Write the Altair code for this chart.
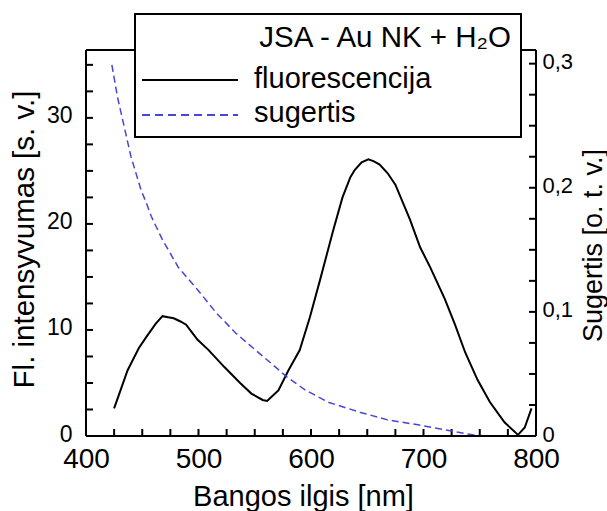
import altair as alt
import pandas as pd

# ---- data ----
fl_nm = [425, 437, 447, 454, 462, 468, 473, 478, 484, 489, 494, 499, 509, 523, 537, 547,
         557, 561, 564, 571, 580, 590, 599, 608, 620, 628, 635, 639, 645, 651, 656, 661,
         668, 675, 688, 697, 706, 719, 728, 737, 748, 759, 772, 784, 790, 796]
fl_val = [2.6, 6.2, 8.3, 9.4, 10.6, 11.3, 11.2, 11.1, 10.8, 10.5, 9.8, 9.1, 8.1, 6.5, 5.0, 4.0,
          3.4, 3.3, 3.6, 4.3, 6.2, 8.1, 11.2, 14.7, 19.5, 22.5, 24.4, 25.1, 25.8, 26.1, 25.9, 25.6,
          24.8, 23.7, 20.4, 17.8, 15.9, 12.9, 10.5, 7.9, 5.3, 3.2, 1.3, 0.1, 0.8, 2.6]

ab_nm = [423, 428, 434, 440, 449, 454, 458, 468, 482, 499, 516, 533, 551, 564, 578, 595,
         616, 644, 668, 695, 719, 737, 747, 760, 781]
ab_val = [0.299, 0.273, 0.249, 0.225, 0.198, 0.187, 0.177, 0.158, 0.136, 0.118, 0.099, 0.083,
          0.069, 0.059, 0.048, 0.037, 0.027, 0.019, 0.013, 0.009, 0.005, 0.002, 0.0005, 0.0, 0.0]

x_labels = [400, 500, 600, 700, 800]
x_ticks = [425, 450, 475, 500, 525, 550, 575, 600, 625, 650, 675, 700, 725, 750, 775]
left_labels = [0, 10, 20, 30]
left_ticks = [2.5, 5, 7.5, 10, 12.5, 15, 17.5, 20, 22.5, 25, 27.5, 30, 32.5, 35]
right_labels = [0, 0.1, 0.2, 0.3]
right_ticks = [0.025, 0.05, 0.075, 0.1, 0.125, 0.15, 0.175, 0.2, 0.225, 0.25, 0.275, 0.3]

legend_title = "JSA - Au NK + H₂O"
series_names = ["fluorescencija", "sugertis"]

# ---- styling ----
W, H = 450, 386
FONT = "Liberation Sans"
NARROW = "Liberation Sans Narrow, Liberation Sans"
BLUE = "#4646d8"
TL = 7

fl_df = pd.DataFrame({"nm": fl_nm, "fl": fl_val})
ab_df = pd.DataFrame({"nm": ab_nm, "ab": ab_val})
one = pd.DataFrame({"k": [0]})

xs = alt.Scale(domain=[400, 800], nice=False, zero=False)
yl = alt.Scale(domain=[0, 36.4], nice=False, zero=False)
yr = alt.Scale(domain=[0, 0.311], nice=False, zero=False)

x_axis = alt.Axis(orient="bottom", values=x_labels, ticks=False, domain=False, grid=False,
                  labelFont=NARROW, labelFontSize=28, labelPadding=9, labelColor="black",
                  labelFlush=False, labelOverlap=False,
                  title="Bangos ilgis [nm]", titleFont=FONT, titleFontSize=29,
                  titleFontWeight="normal", titleColor="black",
                  titleX=217, titleY=69, titleAlign="center", titleBaseline="alphabetic")

left_axis = alt.Axis(orient="left", values=left_labels, ticks=False, domain=False, grid=False,
                     labelFont=FONT, labelFontSize=23, labelPadding=14, labelColor="black",
                     labelFlush=False, labelOverlap=False, labelOffset=-2,
                     title="Fl. intensyvumas [s. v.]", titleFont=FONT, titleFontSize=29.5,
                     titleFontWeight="normal", titleColor="black", titleAngle=270,
                     titleX=-53, titleY=189, titleAlign="center", titleBaseline="alphabetic")

right_axis = alt.Axis(orient="right", values=right_labels, ticks=False, domain=False, grid=False,
                      labelFont=FONT, labelFontSize=22, labelPadding=6, labelColor="black",
                      labelFlush=False, labelOverlap=False, labelOffset=-2,
                      labelExpr="datum.value == 0 ? '0' : replace(format(datum.value, '.1f'), '.', ',')",
                      title="Sugertis [o. t. v.]", titleFont=FONT, titleFontSize=27,
                      titleFontWeight="normal", titleColor="black", titleAngle=270,
                      titleX=65, titleY=195, titleAlign="center", titleBaseline="alphabetic")

# fluorescence side (left scale)
fl_line = alt.Chart(fl_df).mark_line(color="black", strokeWidth=2).encode(
    x=alt.X("nm:Q", scale=xs, axis=x_axis),
    y=alt.Y("fl:Q", scale=yl, axis=left_axis),
)
left_tk = alt.Chart(pd.DataFrame({"v": left_ticks})).mark_rule(color="black", strokeWidth=2).encode(
    y=alt.Y("v:Q", scale=yl, axis=left_axis),
    x=alt.value(0), x2=alt.value(TL),
)
bottom_tk = alt.Chart(pd.DataFrame({"nm": x_ticks})).mark_rule(color="black", strokeWidth=2).encode(
    x=alt.X("nm:Q", scale=xs, axis=x_axis),
    y=alt.value(H), y2=alt.value(H - TL),
)
left_side = alt.layer(fl_line, left_tk, bottom_tk)

# absorption side (right scale)
ab_line = alt.Chart(ab_df).mark_line(color=BLUE, strokeWidth=1.5, strokeDash=[7, 4]).encode(
    x=alt.X("nm:Q", scale=xs, axis=x_axis),
    y=alt.Y("ab:Q", scale=yr, axis=right_axis),
)
right_tk = alt.Chart(pd.DataFrame({"ab": right_ticks})).mark_rule(color="black", strokeWidth=2).encode(
    y=alt.Y("ab:Q", scale=yr, axis=right_axis),
    x=alt.value(W), x2=alt.value(W - TL),
)
right_side = alt.layer(ab_line, right_tk)

# frame
def frule(x, x2, y, y2):
    return alt.Chart(one).mark_rule(color="black", strokeWidth=2).encode(
        x=alt.value(x), x2=alt.value(x2), y=alt.value(y), y2=alt.value(y2))

frame = alt.layer(frule(0, W, 0, 0), frule(0, W, H, H), frule(0, 0, 0, H), frule(W, W, 0, H))

# legend box
box = alt.Chart(one).mark_rect(fill="white", stroke="black", strokeWidth=2).encode(
    x=alt.value(49), x2=alt.value(435), y=alt.value(-36), y2=alt.value(87))
leg_title = alt.Chart(one).mark_text(text=legend_title, font=FONT, fontSize=29.5, align="right",
                                     baseline="alphabetic", color="black").encode(
    x=alt.value(425), y=alt.value(-3))
leg_t1 = alt.Chart(one).mark_text(text=series_names[0], font=FONT, fontSize=29, align="left",
                                  baseline="alphabetic", color="black").encode(
    x=alt.value(168), y=alt.value(38))
leg_t2 = alt.Chart(one).mark_text(text=series_names[1], font=FONT, fontSize=29, align="left",
                                  baseline="alphabetic", color="black").encode(
    x=alt.value(168), y=alt.value(72))
leg_l1 = alt.Chart(one).mark_rule(color="black", strokeWidth=2).encode(
    x=alt.value(56), x2=alt.value(152), y=alt.value(30))
leg_l2 = alt.Chart(one).mark_rule(color=BLUE, strokeWidth=2, strokeDash=[8, 5]).encode(
    x=alt.value(56), x2=alt.value(152), y=alt.value(65))
legend = alt.layer(box, leg_title, leg_t1, leg_t2, leg_l1, leg_l2)

chart = alt.layer(left_side, right_side, frame, legend).resolve_scale(y="independent").properties(
    width=W, height=H,
    autosize=alt.AutoSizeParams(type="none"),
    padding={"left": 86, "top": 50, "right": 71, "bottom": 75},
).configure_view(stroke=None).configure(background="white")

chart.save("out.html", embed_options={"renderer": "svg", "actions": False})
